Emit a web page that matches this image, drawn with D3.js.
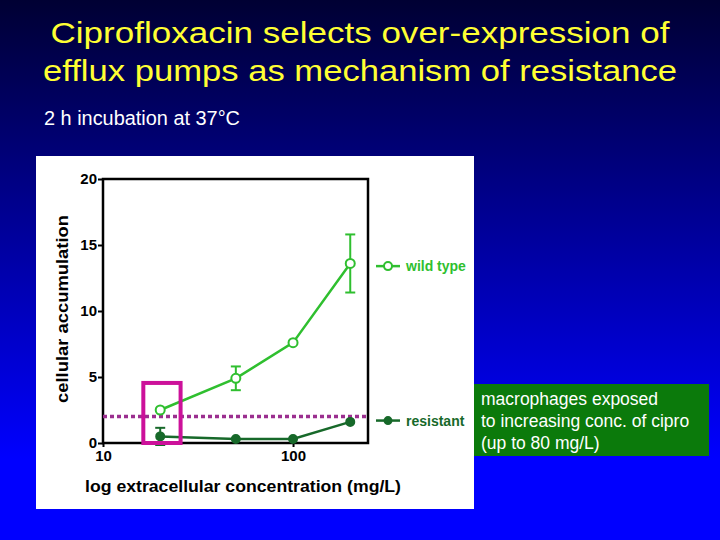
<!DOCTYPE html>
<html>
<head>
<meta charset="utf-8">
<script src="https://cdn.jsdelivr.net/npm/d3@7"></script>
<style>
  body { margin: 0; padding: 0; overflow: hidden; }
  svg { display: block; }
</style>
</head>
<body>
<script>
// data
var concentrations = [20, 50, 100, 200];
var wildType = [2.5, 4.9, 7.6, 13.6];
var wildTypeErr = [0, 0.9, 0, 2.2];
var resistant = [0.5, 0.3, 0.3, 1.6];
var resistantErr = [0.65, 0, 0, 0];
var threshold = 2;
var highlightBox = { x0: 16.3, x1: 25.6, y0: 0, y1: 4.55 };
var xTicks = [10, 100];
var yTicks = [0, 5, 10, 15, 20];
var titleLines = [
  "Ciprofloxacin selects over-expression of",
  "efflux pumps as mechanism of resistance"
];
var subtitle = "2 h incubation at 37\u00B0C";
var noteLines = [
  "macrophages exposed",
  "to increasing conc. of cipro",
  "(up to 80 mg/L)"
];

var W = 720, H = 540;
var lightGreen = "#2fbf2f", darkGreen = "#17692a";

var svg = d3.select("body").append("svg")
  .attr("width", W).attr("height", H)
  .style("font-family", "'Liberation Sans', Arial, sans-serif");

// slide background
var grad = svg.append("defs").append("linearGradient")
  .attr("id", "bg").attr("x1", 0).attr("y1", 0).attr("x2", 0).attr("y2", 1);
grad.append("stop").attr("offset", "0%").attr("stop-color", "#000033");
grad.append("stop").attr("offset", "85%").attr("stop-color", "#0000ff");
grad.append("stop").attr("offset", "100%").attr("stop-color", "#0000ff");
svg.append("rect").attr("width", W).attr("height", H).attr("fill", "url(#bg)");

// title
var titleWidths = [619, 634];
svg.selectAll(".title")
  .data(titleLines)
  .enter()
  .append("text")
  .attr("class", "title")
  .attr("x", 360)
  .attr("y", function (d, i) { return 43 + i * 38; })
  .attr("text-anchor", "middle")
  .attr("textLength", function (d, i) { return titleWidths[i]; })
  .attr("lengthAdjust", "spacingAndGlyphs")
  .style("font-size", "29px")
  .style("fill", "#ffff33")
  .text(function (d) { return d; });

svg.append("text")
  .attr("x", 44).attr("y", 125)
  .attr("textLength", 196)
  .attr("lengthAdjust", "spacingAndGlyphs")
  .style("font-size", "20px")
  .style("fill", "#ffffff")
  .text(subtitle);

// white chart panel
svg.append("rect")
  .attr("x", 36).attr("y", 156)
  .attr("width", 438).attr("height", 353)
  .attr("fill", "#ffffff");

var margin = { top: 179, left: 103 };
var width = 265, height = 264;

var x = d3.scaleLog().domain([10, 248]).range([0, width]);
var y = d3.scaleLinear().domain([0, 20]).range([height, 0]);

var g = svg.append("g")
  .attr("transform", "translate(" + margin.left + "," + margin.top + ")");

// axes
var yAxis = d3.axisLeft(y).tickValues(yTicks).tickSize(5).tickPadding(1)
  .tickFormat(d3.format("d"));
var xAxis = d3.axisBottom(x).tickValues(xTicks).tickSize(4).tickPadding(3)
  .tickFormat(d3.format("d"));

g.append("g").attr("class", "y axis").call(yAxis);
g.append("g").attr("class", "x axis")
  .attr("transform", "translate(0," + height + ")")
  .call(xAxis);

g.selectAll(".axis path").remove();
g.selectAll(".axis line").attr("stroke", "#000").attr("stroke-width", 2);
g.selectAll(".axis text")
  .style("font-size", "15px")
  .style("font-weight", "bold")
  .style("font-family", "'Liberation Sans', Arial, sans-serif")
  .attr("fill", "#000");

// frame
g.append("rect")
  .attr("x", 0).attr("y", 0)
  .attr("width", width).attr("height", height)
  .attr("fill", "none")
  .attr("stroke", "#000")
  .attr("stroke-width", 2.5);

// axis titles
g.append("text")
  .attr("transform", "translate(" + (-35) + "," + (height / 2 - 2) + ")rotate(-90)")
  .attr("text-anchor", "middle")
  .attr("textLength", 188)
  .attr("lengthAdjust", "spacingAndGlyphs")
  .style("font-size", "17px")
  .style("font-weight", "bold")
  .text("cellular accumulation");

g.append("text")
  .attr("x", 140).attr("y", height + 49)
  .attr("text-anchor", "middle")
  .attr("textLength", 316)
  .attr("lengthAdjust", "spacingAndGlyphs")
  .style("font-size", "17px")
  .style("font-weight", "bold")
  .text("log extracellular concentration (mg/L)");

// threshold dotted line
g.append("line")
  .attr("x1", 0).attr("x2", width)
  .attr("y1", y(threshold)).attr("y2", y(threshold))
  .attr("stroke", "#9b2f8f")
  .attr("stroke-width", 3.5)
  .attr("stroke-dasharray", "4,3");

var line = d3.line()
  .x(function (d) { return x(d[0]); })
  .y(function (d) { return y(d[1]); });

function drawSeries(values, errs, color, open) {
  var pts = concentrations.map(function (c, i) { return [c, values[i], errs[i]]; });
  var bars = g.append("g").selectAll(".err")
    .data(pts.filter(function (d) { return d[2] > 0; }))
    .enter().append("g");
  bars.append("line")
    .attr("x1", function (d) { return x(d[0]); })
    .attr("x2", function (d) { return x(d[0]); })
    .attr("y1", function (d) { return y(d[1] + d[2]); })
    .attr("y2", function (d) { return y(d[1] - d[2]); })
    .attr("stroke", color).attr("stroke-width", 2);
  [1, -1].forEach(function (s) {
    bars.append("line")
      .attr("x1", function (d) { return x(d[0]) - 5; })
      .attr("x2", function (d) { return x(d[0]) + 5; })
      .attr("y1", function (d) { return y(d[1] + s * d[2]); })
      .attr("y2", function (d) { return y(d[1] + s * d[2]); })
      .attr("stroke", color).attr("stroke-width", 2);
  });
  g.append("path")
    .datum(pts)
    .attr("d", line)
    .attr("fill", "none")
    .attr("stroke", color)
    .attr("stroke-width", 2.5);
  g.append("g").selectAll("circle")
    .data(pts)
    .enter().append("circle")
    .attr("cx", function (d) { return x(d[0]); })
    .attr("cy", function (d) { return y(d[1]); })
    .attr("r", open ? 4.5 : 4)
    .attr("fill", open ? "#ffffff" : color)
    .attr("stroke", color)
    .attr("stroke-width", 2);
}

drawSeries(resistant, resistantErr, darkGreen, false);
drawSeries(wildType, wildTypeErr, lightGreen, true);

// magenta highlight box
g.append("rect")
  .attr("x", x(highlightBox.x0))
  .attr("y", y(highlightBox.y1))
  .attr("width", x(highlightBox.x1) - x(highlightBox.x0))
  .attr("height", y(highlightBox.y0) - y(highlightBox.y1))
  .attr("fill", "none")
  .attr("stroke", "#cc119a")
  .attr("stroke-width", 4);

// legend
var legend = [
  { name: "wild type", color: lightGreen, open: true, value: 13.4 },
  { name: "resistant", color: darkGreen, open: false, value: 1.7 }
];
var lg = g.selectAll(".legend")
  .data(legend)
  .enter().append("g")
  .attr("class", "legend")
  .attr("transform", function (d) { return "translate(" + (width + 8) + "," + y(d.value) + ")"; });
lg.append("line")
  .attr("x1", 0).attr("x2", 24)
  .attr("stroke", function (d) { return d.color; })
  .attr("stroke-width", 2.5);
lg.append("circle")
  .attr("cx", 12).attr("r", function (d) { return d.open ? 4 : 3.5; })
  .attr("fill", function (d) { return d.open ? "#fff" : d.color; })
  .attr("stroke", function (d) { return d.color; })
  .attr("stroke-width", 2);
lg.append("text")
  .attr("x", 30).attr("y", 5)
  .style("font-size", "14px")
  .style("font-weight", "bold")
  .style("fill", function (d) { return d.color; })
  .text(function (d) { return d.name; });

// green note box
svg.append("rect")
  .attr("x", 474).attr("y", 384)
  .attr("width", 235).attr("height", 72)
  .attr("fill", "#0b7a0b");
svg.selectAll(".note")
  .data(noteLines)
  .enter().append("text")
  .attr("class", "note")
  .attr("x", 481)
  .attr("y", function (d, i) { return 405 + i * 22; })
  .style("font-size", "17.5px")
  .style("fill", "#ffffff")
  .text(function (d) { return d; });
</script>
</body>
</html>
